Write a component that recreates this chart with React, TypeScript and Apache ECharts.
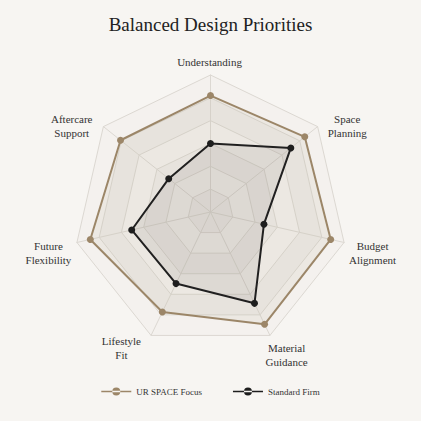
import React, { useEffect, useRef } from "react";
import * as echarts from "echarts";

const indicators = [
  "Understanding",
  "Space\nPlanning",
  "Budget\nAlignment",
  "Material\nGuidance",
  "Lifestyle\nFit",
  "Future\nFlexibility",
  "Aftercare\nSupport",
];
const urSpaceFocus = [85, 88, 90, 91, 81, 90, 84];
const standardFirm = [50, 75, 40, 74, 58, 59, 39];
const seriesNames = ["UR SPACE Focus", "Standard Firm"];

// label nudges [dx, dy] in px relative to the radial anchor (layout only)
const labelNudge: [number, number][] = [
  [-1, 7],
  [14, 12],
  [9, 6],
  [8, 2],
  [-21, -5],
  [-9, 6],
  [-16, 12],
];

const FONT = "'Liberation Serif', 'DejaVu Serif', serif";

// ECharts lays indicators counter-clockwise; reorder so they run clockwise from the top.
const order = [0, ...Array.from({ length: indicators.length - 1 }, (_, i) => indicators.length - 1 - i)];
const cw = <T,>(arr: T[]) => order.map((i) => arr[i]);

const legendIcon = "path://M0,3.8H30V5.2H0Z M11,4.5a4,4 0 1,0 8,0a4,4 0 1,0 -8,0Z";

const rich: Record<string, any> = {};
labelNudge.forEach(([dx, dy], i) => {
  rich["l" + i] = {
    align: "center",
    fontFamily: FONT,
    fontSize: 11,
    color: "#333",
    lineHeight: 14,
    padding: [0, dx < 0 ? -2 * dx : 0, 0, dx > 0 ? 2 * dx : 0],
  };
  rich["s" + i] = { fontSize: 1, lineHeight: Math.max(1, 2 * Math.abs(dy)) };
});

const formatName = (name: string) => {
  const i = indicators.indexOf(name);
  const [, dy] = labelNudge[i];
  const lines = name.split("\n").map((l) => `{l${i}|${l}}`);
  if (dy > 0) lines.unshift(`{s${i}| }`);
  else if (dy < 0) lines.push(`{s${i}| }`);
  return lines.join("\n");
};

export default function App() {
  const ref = useRef<HTMLDivElement>(null);
  useEffect(() => {
    if (!ref.current) return;
    const chart = echarts.init(ref.current, null, { renderer: "svg" });
    chart.setOption({
      animation: false,
      backgroundColor: "#f7f5f2",
      title: {
        text: "Balanced Design Priorities",
        left: "center",
        top: 10,
        textStyle: { fontFamily: FONT, fontSize: 19, fontWeight: "normal", color: "#222" },
      },
      legend: {
        bottom: 20,
        left: "center",
        itemWidth: 30,
        itemHeight: 9,
        itemGap: 31,
        icon: legendIcon,
        textStyle: { fontFamily: FONT, fontSize: 9, color: "#333" },
        data: seriesNames,
      },
      radar: {
        center: ["50%", 212],
        radius: 137,
        startAngle: 90,
        shape: "polygon",
        splitNumber: 6,
        indicator: cw(indicators).map((name) => ({ name, min: 0, max: 100 })),
        nameGap: 20,
        axisName: {
          fontFamily: FONT,
          fontSize: 11,
          color: "#333",
          lineHeight: 14,
          align: "center",
          verticalAlign: "middle",
          formatter: (name: string) => formatName(name),
          rich,
        },
        axisLine: { lineStyle: { color: "#dcd8d2", width: 1 } },
        splitLine: { lineStyle: { color: "#dcd8d2", width: 1 } },
        splitArea: {
          show: true,
          areaStyle: { color: ["rgba(150,135,115,0.08)", "rgba(150,135,115,0.03)"] },
        },
      },
      series: [
        {
          type: "radar",
          data: [
            {
              name: seriesNames[0],
              value: cw(urSpaceFocus),
              symbol: "circle",
              symbolSize: 7,
              lineStyle: { color: "#9c8668", width: 2 },
              itemStyle: { color: "#9c8668" },
              areaStyle: { color: "rgba(160,140,115,0.13)" },
            },
            {
              name: seriesNames[1],
              value: cw(standardFirm),
              symbol: "circle",
              symbolSize: 7,
              lineStyle: { color: "#1e1e1e", width: 2 },
              itemStyle: { color: "#1e1e1e" },
              areaStyle: { color: "rgba(90,85,80,0.14)" },
            },
          ],
        },
      ],
    });
    return () => chart.dispose();
  }, []);
  return <div ref={ref} style={{ width: 421, height: 421, position: "absolute", left: 0, top: 0 }} />;
}
